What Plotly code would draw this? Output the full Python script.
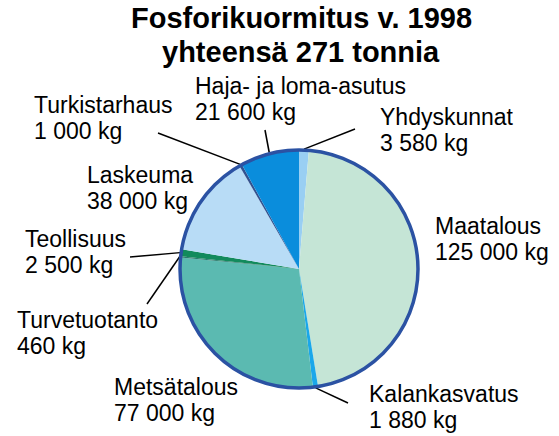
import math
import plotly.graph_objects as go

# ---- data ----
categories = ["Yhdyskunnat", "Maatalous", "Kalankasvatus", "Metsätalous",
              "Turvetuotanto", "Teollisuus", "Laskeuma", "Turkistarhaus",
              "Haja- ja loma-asutus"]
values_kg = [3580, 125000, 1880, 77000, 460, 2500, 38000, 1000, 21600]
colors = ["#99cff3", "#c5e5d6", "#1aa7ea", "#5bbab1", "#2a7a6e",
          "#128a5c", "#b8dcf6", "#33528f", "#0a8ddc"]
title_lines = ["Fosforikuormitus v. 1998", "yhteensä 271 tonnia"]

# ---- layout constants (pixels) ----
W, H = 559, 436
CX, CY, R = 299, 269, 119
FONT = "Liberation Sans, Arial, sans-serif"
LFS = 23   # label font size
TFS = 29   # title font size
LINE_GAP = 26

# label left x, first-line baseline, leader-line outer end (or None)
label_pos = {
    "Yhdyskunnat": (378, 125, (355, 129)),
    "Maatalous": (433, 234, None),
    "Kalankasvatus": (367, 402, (348, 403)),
    "Metsätalous": (112, 395, None),
    "Turvetuotanto": (15, 328, (147, 304)),
    "Teollisuus": (23, 247, (130, 257)),
    "Laskeuma": (85, 183, None),
    "Turkistarhaus": (32, 113, (158, 133)),
    "Haja- ja loma-asutus": (193, 94, (265, 130)),
}


def px(x):
    return x / W


def py(y):
    return 1 - y / H


def fmt(v):
    return f"{v:,}".replace(",", " ") + " kg"


fig = go.Figure(go.Pie(
    labels=categories,
    values=values_kg,
    sort=False,
    direction="clockwise",
    rotation=0,
    marker=dict(colors=colors, line=dict(width=0)),
    textinfo="none",
    hoverinfo="label+value",
    showlegend=False,
    domain=dict(x=[px(CX - R), px(CX + R)], y=[py(CY + R), py(CY - R)]),
))

annotations = []
shapes = []

# title
for i, t in enumerate(title_lines):
    base = 28 + i * 34
    annotations.append(dict(
        text=f"<b>{t}</b>", x=px(301), y=py(base - 0.3465 * TFS),
        xref="paper", yref="paper", xanchor="center", yanchor="middle",
        showarrow=False, font=dict(family=FONT, size=TFS, color="black")))

total = sum(values_kg)
cum = 0
for name, v in zip(categories, values_kg):
    mid = (cum + v / 2) / total * 2 * math.pi
    cum += v
    lx, base, lead = label_pos[name]
    for j, t in enumerate([name, fmt(v)]):
        b = base + j * LINE_GAP
        annotations.append(dict(
            text=t, x=px(lx), y=py(b - 0.3465 * LFS),
            xref="paper", yref="paper", xanchor="left", yanchor="middle",
            showarrow=False, font=dict(family=FONT, size=LFS, color="black")))
    if lead is not None:
        ex = CX + (R + 1) * math.sin(mid)
        ey = CY - (R + 1) * math.cos(mid)
        shapes.append(dict(type="line", xref="paper", yref="paper",
                           x0=px(lead[0]), y0=py(lead[1]), x1=px(ex), y1=py(ey),
                           line=dict(color="black", width=1.5)))

# outer border of the pie
shapes.append(dict(type="circle", xref="paper", yref="paper",
                   x0=px(CX - R), x1=px(CX + R), y0=py(CY + R), y1=py(CY - R),
                   line=dict(color="#2b52a3", width=3.5)))

fig.update_layout(
    width=W, height=H,
    margin=dict(l=0, r=0, t=0, b=0),
    paper_bgcolor="white", plot_bgcolor="white",
    annotations=annotations,
    shapes=shapes,
)

fig.write_html("out.html",
               config={"displayModeBar": False},
               post_script="document.body.style.margin='0';document.body.style.overflow='hidden';")
